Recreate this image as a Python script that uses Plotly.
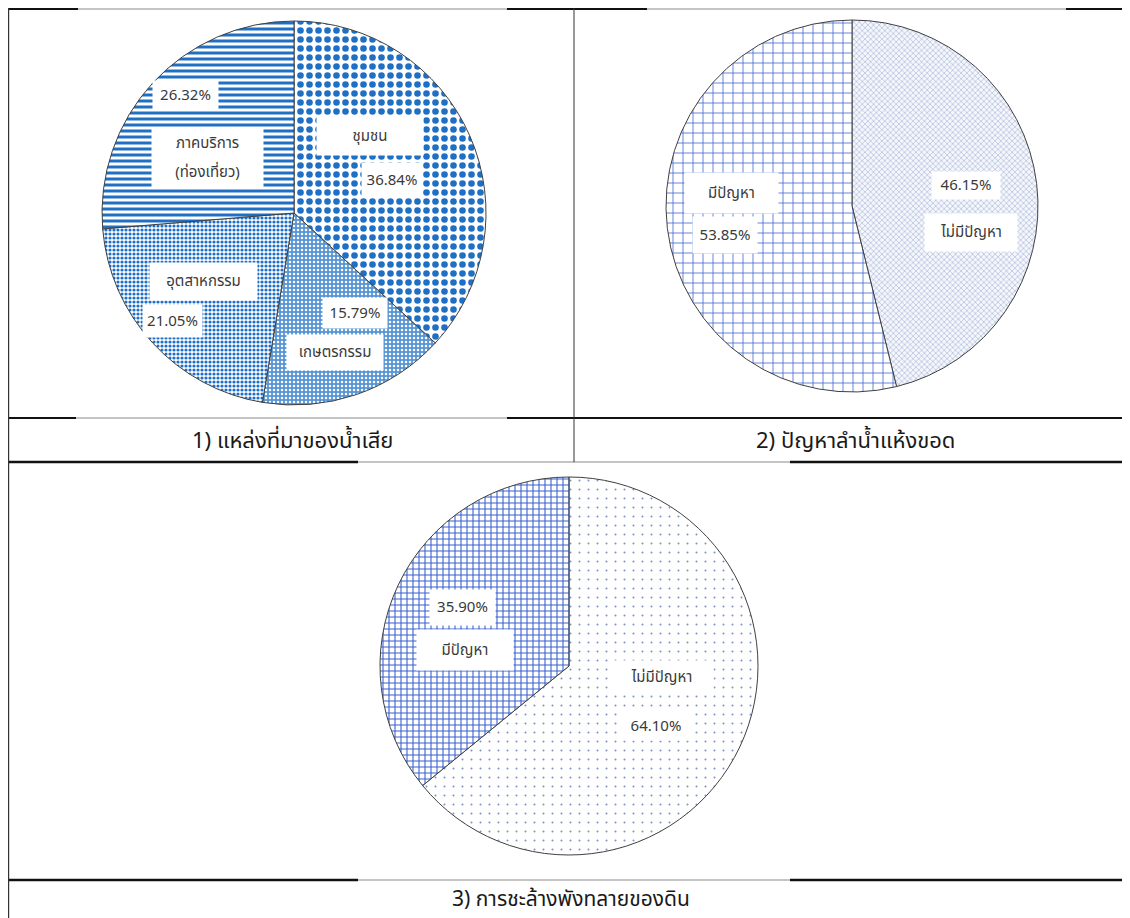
import plotly.graph_objects as go

# page offset of the plot div (default body margin) and figure size
OX, OY = 8, 8
W, H = 1130 - OX, 918 - OY

# ---------------- data ----------------
labels1 = ["ชุมชน", "เกษตรกรรม", "อุตสาหกรรม", "ภาคบริการ (ท่องเที่ยว)"]
values1 = [36.84, 15.79, 21.05, 26.32]
labels2 = ["ไม่มีปัญหา", "มีปัญหา"]
values2 = [46.15, 53.85]
labels3 = ["ไม่มีปัญหา", "มีปัญหา"]
values3 = [64.10, 35.90]
captions = ["1) แหล่งที่มาของน้ำเสีย", "2) ปัญหาลำน้ำแห้งขอด", "3) การชะล้างพังทลายของดิน"]

FONT = "Noto Sans Thai, Tahoma, Noto Sans, DejaVu Sans, sans-serif"
TXT = "#3a3a3a"


def px(x):
    return (x - OX) / W


def py(y):
    return 1 - (y - OY) / H


def dom(cx, cy, r):
    return dict(x=[px(cx - r), px(cx + r)], y=[py(cy + r), py(cy - r)])


fig = go.Figure()

fig.add_trace(go.Pie(
    labels=labels1, values=values1, sort=False, direction="clockwise", rotation=0,
    domain=dom(294, 213, 192), textinfo="none", hoverinfo="label+percent",
    marker=dict(
        colors=["white", "#4a8fd4", "white", "white"],
        line=dict(color="#404040", width=1),
        pattern=dict(
            shape=[".", ".", ".", "-"],
            fgcolor=["#1f6fc4", "white", "#1f6fc4", "#1f6fc4"],
            bgcolor=["white", "#5795d4", "white", "white"],
            size=[9, 4, 4, 6],
            solidity=[0.42, 0.3, 0.5, 0.5],
            fillmode="replace",
        ),
    ),
    showlegend=False,
))

fig.add_trace(go.Pie(
    labels=labels2, values=values2, sort=False, direction="clockwise", rotation=0,
    domain=dom(852, 206, 186), textinfo="none", hoverinfo="label+percent",
    marker=dict(
        colors=["white", "white"],
        line=dict(color="#404040", width=1),
        pattern=dict(
            shape=["x", "+"],
            fgcolor=["#8a9dca", "#3a62d0"],
            bgcolor=["#f4f6fb", "white"],
            size=[4, 10],
            solidity=[0.22, 0.15],
            fillmode="replace",
        ),
    ),
    showlegend=False,
))

fig.add_trace(go.Pie(
    labels=labels3, values=values3, sort=False, direction="clockwise", rotation=0,
    domain=dom(569, 666, 189), textinfo="none", hoverinfo="label+percent",
    marker=dict(
        colors=["white", "white"],
        line=dict(color="#404040", width=1),
        pattern=dict(
            shape=[".", "+"],
            fgcolor=["#7a92c4", "#3a62d0"],
            bgcolor=["white", "white"],
            size=[9, 6],
            solidity=[0.04, 0.33],
            fillmode="replace",
        ),
    ),
    showlegend=False,
))

annotations = []


def box(text, cx, cy, w, h, size=15):
    annotations.append(dict(
        text=text, x=px(cx), y=py(cy), xref="paper", yref="paper",
        xanchor="center", yanchor="middle",
        showarrow=False, bgcolor="white", width=w, height=h, align="center",
        valign="middle", borderpad=0,
        font=dict(family=FONT, size=size, color=TXT),
    ))


def pct(v):
    return f"{v:.2f}%"


# pie 1 labels
box(pct(values1[3]), 186, 95, 65, 28)
svc_line1, svc_line2 = labels1[3].split(" ")
box(svc_line1, 207, 143, 111, 30)
box(svc_line2, 207, 172, 111, 30)
box(labels1[0], 370, 136, 106, 38)
box(pct(values1[0]), 392, 180, 60, 34)
box(labels1[2], 203, 281, 107, 37)
box(pct(values1[2]), 172, 321, 59, 32)
box(pct(values1[1]), 355, 313, 64, 30)
box(labels1[1], 335, 352, 96, 35)

# pie 2 labels
box(labels2[1], 731, 193, 93, 40)
box(pct(values2[1]), 725, 235, 64, 36)
box(pct(values2[0]), 966, 186, 68, 27)
box(labels2[0], 971, 232, 92, 37)

# pie 3 labels
box(pct(values3[1]), 462, 607, 65, 35)
box(labels3[1], 465, 650, 96, 40)
box(labels3[0], 661, 677, 103, 33)
box(pct(values3[0]), 656, 726, 68, 28)

# captions
for t, cx, cy, fs in [(captions[0], 292, 441, 22), (captions[1], 856, 441, 22),
                      (captions[2], 571, 899, 21)]:
    annotations.append(dict(
        text=t, x=px(cx), y=py(cy), xref="paper", yref="paper", showarrow=False,
        font=dict(family=FONT, size=fs, color="#1a1a1a"), xanchor="center", yanchor="middle",
    ))

shapes = []


def hline(y, x0, x1, color, width):
    shapes.append(dict(type="line", xref="paper", yref="paper",
                       x0=px(x0), x1=px(x1), y0=py(y), y1=py(y),
                       line=dict(color=color, width=width)))


def vline(x, y0, y1, color, width):
    shapes.append(dict(type="line", xref="paper", yref="paper",
                       x0=px(x), x1=px(x), y0=py(y0), y1=py(y1),
                       line=dict(color=color, width=width)))


BLK, GRY = "#111111", "#8a8a8a"
TOP = 9
# top border
hline(TOP, 8, 78, BLK, 2)
hline(TOP, 78, 507, GRY, 1)
hline(TOP, 507, 647, BLK, 2)
hline(TOP, 647, 1066, GRY, 1)
hline(TOP, 1066, 1130, BLK, 2)
# caption row 1 top
hline(418, 8, 76, BLK, 2)
hline(418, 76, 507, GRY, 1)
hline(418, 507, 1130, BLK, 2)
# row split
for y in (462, 880):
    hline(y, 8, 358, BLK, 2.5)
    hline(y, 358, 790, GRY, 1)
    hline(y, 790, 1130, BLK, 2.5)
# verticals
vline(8.6, 8, 918, "#333333", 1.2)
vline(574, 8, 462, "#333333", 1)

fig.update_layout(
    width=W, height=H, margin=dict(l=0, r=0, t=0, b=0),
    paper_bgcolor="white", plot_bgcolor="white",
    annotations=annotations, shapes=shapes,
    font=dict(family=FONT),
)

fig.write_html("out.html")
